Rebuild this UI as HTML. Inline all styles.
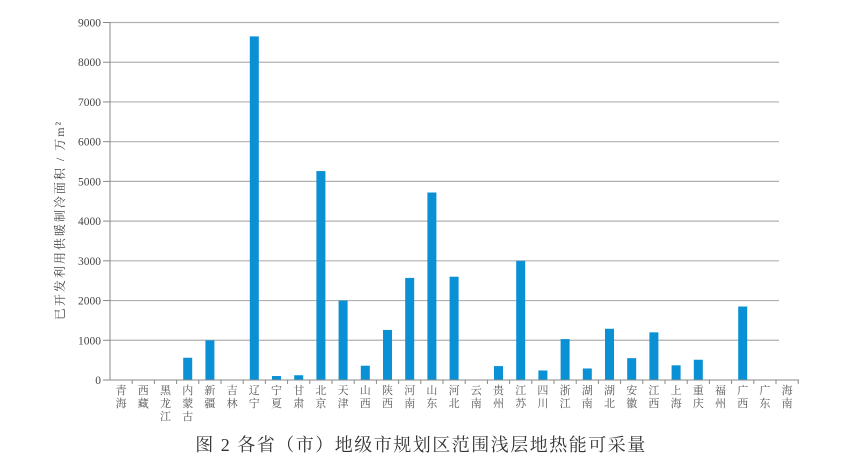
<!DOCTYPE html>
<html><head><meta charset="utf-8"><style>
html,body{margin:0;padding:0;background:#fff;}
svg{display:block;}
</style></head><body>
<svg width="864" height="466" viewBox="0 0 864 466" xmlns="http://www.w3.org/2000/svg" font-family="'Liberation Serif','Noto Serif CJK SC',serif">
<g id="grid" stroke="#b0b0b0" stroke-width="1.2"></g>
<g id="bars" fill="#0a90d4"></g>
<g id="axes" stroke="#888" stroke-width="1"></g>
<g id="labels" fill="#555" font-size="11"></g>
<text transform="translate(64,220) rotate(-90)" text-anchor="middle" font-size="12" letter-spacing="2" fill="#444">已开发利用供暖制冷面积 / 万m²</text>
<text x="421" y="451" text-anchor="middle" font-size="18" letter-spacing="1.5" fill="#333">图 2  各省（市）地级市规划区范围浅层地热能可采量</text>
</svg>
<script>
const ns="http://www.w3.org/2000/svg";
function el(t,a,p,txt){const e=document.createElementNS(ns,t);for(const k in a)e.setAttribute(k,a[k]);if(txt!==undefined)e.textContent=txt;document.getElementById(p).appendChild(e);return e;}
const y0=380,k=357.5/9000,x0=110,w=22.2;
for(let v=0;v<=9000;v+=1000){const y=y0-v*k;
 if(v>0)el('line',{x1:110,x2:779,y1:y,y2:y},'grid');
 el('line',{x1:103,x2:110,y1:y,y2:y},'axes');
 el('text',{x:101,y:y+4,'text-anchor':'end','font-size':'11.5',fill:'#444'},'labels',String(v));}
el('line',{x1:110,x2:110,y1:22,y2:380},'axes');
el('line',{x1:103,x2:799,y1:380,y2:380},'axes');
const names=["青海","西藏","黑龙江","内蒙古","新疆","吉林","辽宁","宁夏","甘肃","北京","天津","山西","陕西","河南","山东","河北","云南","贵州","江苏","四川","浙江","湖南","湖北","安徽","江西","上海","重庆","福州","广西","广东","海南"];
const vals=[0,0,0,560,1000,0,8650,100,120,5260,2000,360,1260,2570,4720,2600,0,350,3000,240,1030,290,1290,550,1200,370,510,0,1850,0,0];
names.forEach((n,i)=>{const c=x0+w*(i+0.5);
 el('line',{x1:x0+w*(i+1),x2:x0+w*(i+1),y1:380,y2:384},'axes');
 if(vals[i]>0){const h=vals[i]*k;el('rect',{x:c-4.5,y:y0-h,width:9,height:h},'bars');}
 [...n].forEach((ch,j)=>el('text',{x:c,y:394+j*13,'text-anchor':'middle'},'labels',ch));});
</script>
</body></html>
